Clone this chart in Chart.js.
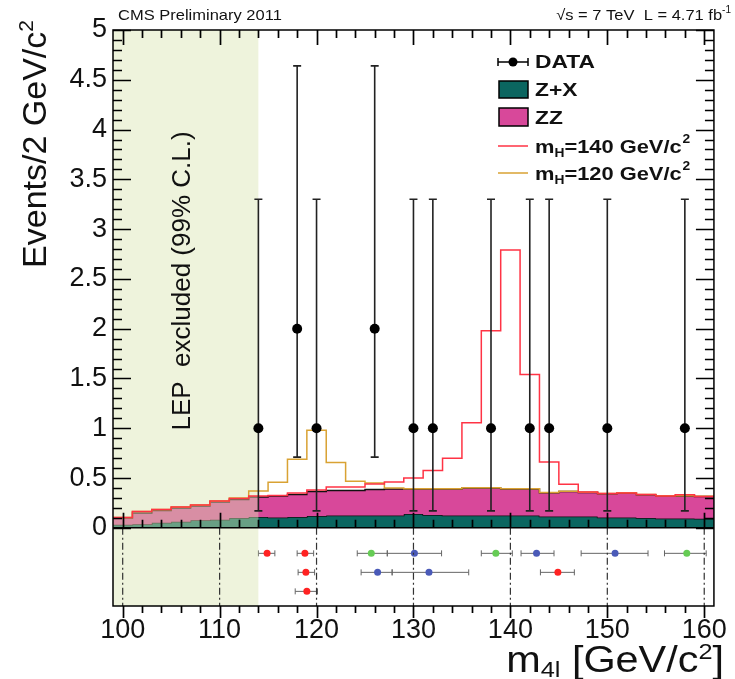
<!DOCTYPE html>
<html>
<head>
<meta charset="utf-8">
<script src="https://cdn.jsdelivr.net/npm/chart.js@4.4.1/dist/chart.umd.min.js"></script>
<style>
  html, body { margin: 0; padding: 0; background: #fff; }
  canvas { display: block; }
</style>
</head>
<body>
<canvas id="canvas" width="735" height="679"></canvas>
<script>
// histogram bins: 2 GeV wide, first bin starts at 99 GeV
const binLow = 99;
const binWidth = 2;

// stack tops read per bin (bin centres 100, 102, ..., 160)
const zxTop = [0.03, 0.035, 0.05, 0.06, 0.075, 0.08, 0.10, 0.11, 0.105, 0.11, 0.12,
  0.125, 0.125, 0.125, 0.125, 0.14, 0.13, 0.125, 0.125, 0.125, 0.125, 0.125,
  0.115, 0.115, 0.115, 0.105, 0.105, 0.10, 0.095, 0.095, 0.092];
const zzTop = [0.10, 0.15, 0.175, 0.20, 0.22, 0.26, 0.285, 0.31, 0.32, 0.335, 0.365,
  0.376, 0.376, 0.386, 0.39, 0.39, 0.39, 0.39, 0.40, 0.40, 0.39, 0.39,
  0.353, 0.365, 0.355, 0.343, 0.35, 0.333, 0.32, 0.32, 0.315];
const mh140Top = [0.105, 0.165, 0.185, 0.21, 0.23, 0.27, 0.295, 0.32, 0.325, 0.35, 0.38,
  0.41, 0.41, 0.44, 0.46, 0.50, 0.577, 0.70, 1.056, 1.98, 2.79, 1.54,
  0.66, 0.437, 0.36, 0.345, 0.35, 0.335, 0.32, 0.333, 0.315];
const mh120Top = [0.105, 0.165, 0.185, 0.21, 0.23, 0.27, 0.30, 0.37, 0.457, 0.69, 0.98,
  0.655, 0.467, 0.45, 0.40, 0.393, 0.393, 0.393, 0.403, 0.403, 0.393, 0.393,
  0.356, 0.368, 0.358, 0.346, 0.353, 0.336, 0.323, 0.323, 0.318];

// data events
const dataMass = [114, 118, 120, 126, 130, 132, 138, 142, 144, 150, 158];
const dataCount = [1, 2, 1, 2, 1, 1, 1, 1, 1, 1, 1];
const dataErrDown = [0.83, 1.29, 0.83, 1.29, 0.83, 0.83, 0.83, 0.83, 0.83, 0.83, 0.83];
const dataErrUp = [2.3, 2.64, 2.3, 2.64, 2.3, 2.3, 2.3, 2.3, 2.3, 2.3, 2.3];

// per-event masses in the lower strip (row 1..3)
const redMass = [114.9, 118.8, 118.9, 119.0, 144.9];
const redRow = [1, 1, 2, 3, 2];
const redLo = [114.0, 118.0, 118.1, 117.8, 143.1];
const redHi = [115.7, 119.7, 119.8, 120.1, 146.6];
const greenMass = [125.65, 138.5, 158.2];
const greenRow = [1, 1, 1];
const greenLo = [124.2, 137.0, 155.9];
const greenHi = [127.3, 140.2, 160.2];
const blueMass = [130.1, 142.7, 150.8, 126.3, 131.6];
const blueRow = [1, 1, 1, 2, 2];
const blueLo = [127.3, 141.1, 147.3, 124.6, 127.8];
const blueHi = [132.9, 144.5, 154.2, 127.8, 135.7];

const xTicks = [100, 110, 120, 130, 140, 150, 160];
const yTicks = [0, 0.5, 1, 1.5, 2, 2.5, 3, 3.5, 4, 4.5, 5];
const lepLimit = 114;

const rowY = {1: -0.256, 2: -0.447, 3: -0.638};
const FONT = "'Liberation Sans', Arial, Helvetica, sans-serif";
const TEAL = '#0b6660';
const PINK = '#d8489a';

function steps(tops) {
  let pts = tops.map(function(v, i) { return {x: binLow + i * binWidth, y: v}; });
  pts.push({x: binLow + tops.length * binWidth, y: tops[tops.length - 1]});
  return pts;
}

function points(mass, rows) {
  return mass.map(function(m, i) { return {x: m, y: rowY[rows[i]]}; });
}

// text with a slight horizontal stretch like the original figure
function stretchText(ctx, txt, x, y, sx) {
  ctx.save();
  ctx.translate(x, y);
  ctx.scale(sx, 1);
  ctx.fillText(txt, 0, 0);
  let w = ctx.measureText(txt).width * sx;
  ctx.restore();
  return w;
}

const hepPlugin = {
  id: 'hep',
  beforeDatasetsDraw(chart) {
    const ctx = chart.ctx, xs = chart.scales.x, ys = chart.scales.y;
    // horizontal errors in the strip
    ctx.save();
    ctx.strokeStyle = '#666';
    ctx.lineWidth = 1;
    [[redMass, redRow, redLo, redHi], [greenMass, greenRow, greenLo, greenHi], [blueMass, blueRow, blueLo, blueHi]].forEach(function(set) {
      set[0].forEach(function(m, i) {
        let y = ys.getPixelForValue(rowY[set[1][i]]);
        let x1 = xs.getPixelForValue(set[2][i]), x2 = xs.getPixelForValue(set[3][i]);
        ctx.beginPath();
        ctx.moveTo(x1, y); ctx.lineTo(x2, y);
        ctx.moveTo(x1, y - 3); ctx.lineTo(x1, y + 3);
        ctx.moveTo(x2, y - 3); ctx.lineTo(x2, y + 3);
        ctx.stroke();
      });
    });
    ctx.restore();
  },
  beforeDatasetDraw(chart, args) {
    const ctx = chart.ctx, xs = chart.scales.x, ys = chart.scales.y, a = chart.chartArea;
    if (args.index === 2) {
      // LEP excluded band
      let xr = xs.getPixelForValue(lepLimit);
      ctx.save();
      ctx.fillStyle = 'rgba(217,228,177,0.45)';
      ctx.fillRect(a.left, a.top, xr - a.left, a.bottom - a.top);
      ctx.fillStyle = '#111';
      ctx.font = '26px ' + FONT;
      ctx.translate(183, 281);
      ctx.rotate(-Math.PI / 2);
      ctx.textAlign = 'center';
      ctx.textBaseline = 'middle';
      ctx.fillText('LEP  excluded (99% C.L.)', 0, 0);
      ctx.restore();
    }
    if (args.index === 0) {
      ctx.save();
      ctx.strokeStyle = '#222';
      ctx.lineWidth = 1.6;
      dataMass.forEach(function(m, i) {
        let x = xs.getPixelForValue(m);
        let y1 = ys.getPixelForValue(dataCount[i] - dataErrDown[i]);
        let y2 = ys.getPixelForValue(dataCount[i] + dataErrUp[i]);
        ctx.beginPath();
        ctx.moveTo(x, y1); ctx.lineTo(x, y2);
        ctx.moveTo(x - 4, y1); ctx.lineTo(x + 4, y1);
        ctx.moveTo(x - 4, y2); ctx.lineTo(x + 4, y2);
        ctx.stroke();
      });
      ctx.restore();
    }
  },
  afterDatasetsDraw(chart) {
    const ctx = chart.ctx, xs = chart.scales.x, ys = chart.scales.y, a = chart.chartArea;
    let y0 = ys.getPixelForValue(0);
    ctx.save();
    ctx.strokeStyle = '#333';
    ctx.lineWidth = 1.2;
    ctx.setLineDash([7, 3, 2, 3]);
    xTicks.forEach(function(t) {
      let x = xs.getPixelForValue(t);
      ctx.beginPath(); ctx.moveTo(x, y0); ctx.lineTo(x, a.bottom); ctx.stroke();
    });
    ctx.restore();
  },
  afterDraw(chart) {
    const ctx = chart.ctx, xs = chart.scales.x, ys = chart.scales.y, a = chart.chartArea;
    let y0 = ys.getPixelForValue(0);
    ctx.save();
    ctx.strokeStyle = '#000';
    ctx.lineWidth = 1.7;
    // y ticks left and right, inward
    for (let k = 0; k <= 50; k++) {
      let y = Math.round(ys.getPixelForValue(k / 10)) + 0.5;
      let len = (k % 5 === 0) ? 18 : 9;
      ctx.beginPath();
      ctx.moveTo(a.left, y); ctx.lineTo(a.left + len, y);
      ctx.moveTo(a.right, y); ctx.lineTo(a.right - len, y);
      ctx.stroke();
    }
    // x ticks every 2 GeV
    for (let v = 100; v <= 160; v += 2) {
      let x = Math.round(xs.getPixelForValue(v)) + 0.5;
      let major = (v % 10 === 0);
      ctx.beginPath();
      ctx.moveTo(x, a.top); ctx.lineTo(x, a.top + (major ? 15 : 8));
      ctx.moveTo(x, y0); ctx.lineTo(x, y0 - (major ? 15 : 8));
      ctx.moveTo(x, a.bottom); ctx.lineTo(x, a.bottom + (major ? 12 : 7));
      ctx.stroke();
    }
    ctx.lineWidth = 1.5;
    ctx.strokeRect(a.left, a.top, a.right - a.left, a.bottom - a.top);
    ctx.beginPath(); ctx.moveTo(a.left, y0); ctx.lineTo(a.right, y0); ctx.stroke();

    // header
    ctx.fillStyle = '#111';
    ctx.textBaseline = 'alphabetic';
    ctx.font = '15px ' + FONT;
    stretchText(ctx, 'CMS Preliminary 2011', 118, 20, 1.1);
    let w1 = ctx.measureText('√s = 7 TeV  L = 4.71 fb').width * 1.1;
    ctx.font = '10px ' + FONT;
    let w2 = ctx.measureText('-1').width;
    ctx.font = '15px ' + FONT;
    stretchText(ctx, '√s = 7 TeV  L = 4.71 fb', 731 - w2 - w1, 20, 1.1);
    ctx.font = '10px ' + FONT;
    ctx.fillText('-1', 731 - w2, 13);

    // y title
    ctx.save();
    ctx.font = '34px ' + FONT;
    ctx.translate(46, 20);
    ctx.rotate(-Math.PI / 2);
    ctx.textAlign = 'left';
    let t = 'Events/2 GeV/c';
    let tw = ctx.measureText(t).width;
    ctx.font = '21px ' + FONT;
    let sw = ctx.measureText('2').width;
    ctx.font = '34px ' + FONT;
    ctx.fillText(t, -(tw + sw), 0);
    ctx.font = '21px ' + FONT;
    ctx.fillText('2', -sw, -13);
    ctx.restore();

    // x title
    let parts = [['m', 36, 0], ['4l', 22, 5], [' [GeV/c', 36, 0], ['2', 22, -13], [']', 36, 0]];
    let total = 0;
    parts.forEach(function(p) { ctx.font = p[1] + 'px ' + FONT; total += ctx.measureText(p[0]).width * 1.15; });
    let x = 724 - total;
    parts.forEach(function(p) {
      ctx.font = p[1] + 'px ' + FONT;
      x += stretchText(ctx, p[0], x, 672 + p[2], 1.15);
    });

    // legend
    ctx.lineWidth = 1.5;
    ctx.strokeStyle = '#000';
    ctx.beginPath();
    ctx.moveTo(498, 62); ctx.lineTo(528, 62);
    ctx.moveTo(498, 58); ctx.lineTo(498, 66);
    ctx.moveTo(528, 58); ctx.lineTo(528, 66);
    ctx.stroke();
    ctx.fillStyle = '#000';
    ctx.beginPath(); ctx.arc(513, 62, 4.5, 0, Math.PI * 2); ctx.fill();
    ctx.fillStyle = TEAL;
    ctx.fillRect(499, 81, 29, 17); ctx.strokeRect(499, 81, 29, 17);
    ctx.fillStyle = PINK;
    ctx.fillRect(499, 108, 29, 18); ctx.strokeRect(499, 108, 29, 18);
    ctx.strokeStyle = '#ff3344';
    ctx.beginPath(); ctx.moveTo(498, 146); ctx.lineTo(528, 146); ctx.stroke();
    ctx.strokeStyle = '#d9a233';
    ctx.beginPath(); ctx.moveTo(498, 173); ctx.lineTo(528, 173); ctx.stroke();

    ctx.fillStyle = '#111';
    ctx.textBaseline = 'middle';
    ctx.font = 'bold 19px ' + FONT;
    stretchText(ctx, 'DATA', 535, 63, 1.2);
    stretchText(ctx, 'Z+X', 535, 91, 1.2);
    stretchText(ctx, 'ZZ', 535, 119, 1.2);
    [['140', 148], ['120', 175]].forEach(function(l) {
      let xx = 535;
      ctx.font = 'bold 19px ' + FONT;
      xx += stretchText(ctx, 'm', xx, l[1], 1.15);
      ctx.font = 'bold 12px ' + FONT;
      xx += stretchText(ctx, 'H', xx, l[1] + 6, 1.15);
      ctx.font = 'bold 19px ' + FONT;
      xx += stretchText(ctx, '=' + l[0] + ' GeV/c', xx, l[1], 1.15);
      ctx.font = 'bold 12px ' + FONT;
      stretchText(ctx, '2', xx + 1, l[1] - 8, 1.15);
    });
    ctx.restore();
  }
};

const lineBase = {showLine: true, stepped: 'before', pointRadius: 0, borderWidth: 1.5};

new Chart(document.getElementById('canvas').getContext('2d'), {
  type: 'scatter',
  data: {
    datasets: [
      {label: 'DATA', data: dataMass.map(function(m, i) { return {x: m, y: dataCount[i]}; }),
       pointRadius: 5, pointBackgroundColor: '#000', pointBorderWidth: 0, showLine: false},
      Object.assign({label: 'mH=140', data: steps(mh140Top), borderColor: '#ff3344', fill: false}, lineBase),
      Object.assign({label: 'mH=120', data: steps(mh120Top), borderColor: '#d9a233', fill: false}, lineBase),
      Object.assign({label: 'ZZ', data: steps(zzTop), borderColor: '#111', backgroundColor: PINK, fill: 4}, lineBase),
      Object.assign({label: 'Z+X', data: steps(zxTop), borderColor: '#111', backgroundColor: TEAL, fill: 'origin'}, lineBase),
      {label: 'red', data: points(redMass, redRow), pointRadius: 3.5, pointBackgroundColor: '#f22', pointBorderWidth: 0},
      {label: 'green', data: points(greenMass, greenRow), pointRadius: 3.5, pointBackgroundColor: '#6c5', pointBorderWidth: 0},
      {label: 'blue', data: points(blueMass, blueRow), pointRadius: 3.5, pointBackgroundColor: '#4a5ab8', pointBorderWidth: 0}
    ]
  },
  options: {
    responsive: false,
    animation: false,
    layout: {padding: {left: 0, right: 15, top: 30, bottom: 0}},
    plugins: {legend: {display: false}, tooltip: {enabled: false}},
    scales: {
      x: {
        type: 'linear', min: 99, max: 161,
        afterBuildTicks: function(s) { s.ticks = xTicks.map(function(v) { return {value: v}; }); },
        afterFit: function(s) { s.height = 73; },
        grid: {display: false, drawTicks: false},
        border: {display: false},
        ticks: {color: '#111', font: {family: FONT, size: 27}, padding: 8, maxRotation: 0,
                callback: function(v) { return String(v); }}
      },
      y: {
        min: -0.785, max: 5,
        afterBuildTicks: function(s) { s.ticks = yTicks.map(function(v) { return {value: v}; }); },
        afterFit: function(s) { s.width = 113; },
        grid: {display: false, drawTicks: false},
        border: {display: false},
        ticks: {color: '#111', font: {family: FONT, size: 27}, padding: 6,
                callback: function(v) { return String(v); }}
      }
    }
  },
  plugins: [hepPlugin]
});
</script>
</body>
</html>
